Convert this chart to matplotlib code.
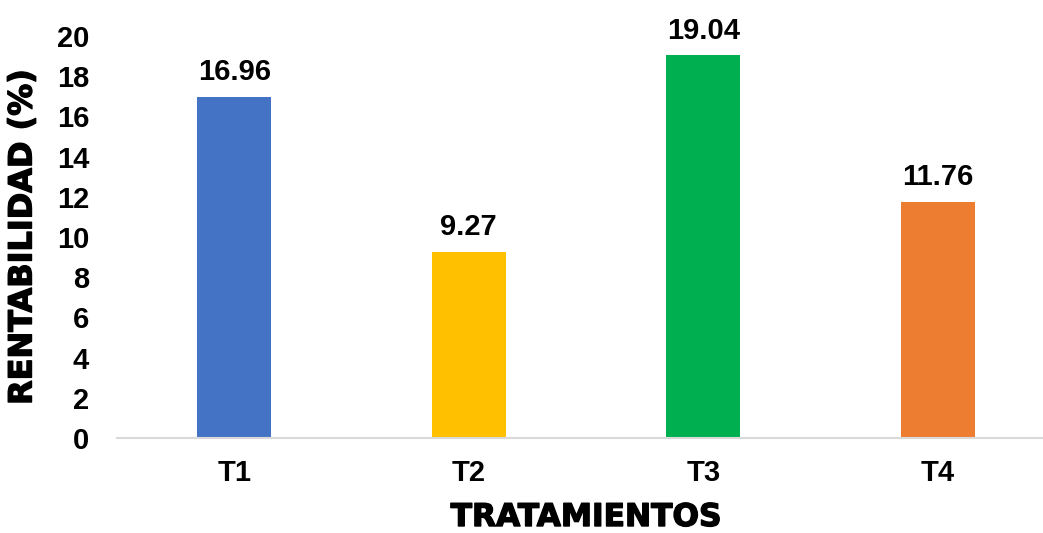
import matplotlib
matplotlib.use("Agg")
import matplotlib.pyplot as plt
import matplotlib.patheffects as pe

categories = ["T1", "T2", "T3", "T4"]
values = [16.96, 9.27, 19.04, 11.76]
colors = ["#4472C4", "#FFC000", "#00B050", "#ED7D31"]
y_ticks = [0, 2, 4, 6, 8, 10, 12, 14, 16, 18, 20]

W, H = 1043, 533
fig = plt.figure(figsize=(W / 100, H / 100), dpi=100)
ax = fig.add_axes([117 / W, 95 / H, (1055 - 117) / W, 402 / H])

x = range(len(categories))
bars = ax.bar(x, values, width=0.316, color=colors, zorder=2)

ax.set_xlim(-0.5, len(categories) - 0.5)
ax.set_ylim(0, 20)
ax.set_yticks(y_ticks)
ax.set_xticks(list(x))
ax.set_xticklabels(categories)

tick_font = dict(family="Liberation Sans", weight="bold", size=21)
for lbl in ax.get_yticklabels() + ax.get_xticklabels():
    lbl.set_fontfamily("Liberation Sans")
    lbl.set_fontweight("bold")
    lbl.set_fontsize(21)
ax.tick_params(axis="y", length=0, pad=20)
ax.tick_params(axis="x", length=0, pad=15)

for s in ["top", "right", "left"]:
    ax.spines[s].set_visible(False)
ax.spines["bottom"].set_color("#D9D9D9")
ax.spines["bottom"].set_linewidth(1.5)

for bar, v in zip(bars, values):
    ax.annotate(f"{v:.2f}", (bar.get_x() + bar.get_width() / 2, v),
                xytext=(0, 12), textcoords="offset points",
                ha="center", va="baseline", **tick_font)

heavy = [pe.withStroke(linewidth=1.0, foreground="black")]
fig.text(586 / W, 1 / H, "TRATAMIENTOS", ha="center", va="bottom",
         family="DejaVu Sans", weight="bold", size=22.5, path_effects=heavy)
fig.text(23 / W, (H - 237) / H, "RENTABILIDAD (%)", ha="center", va="center",
         rotation=90, family="DejaVu Sans", weight="bold", size=23,
         path_effects=heavy)

fig.savefig("out.png", dpi=100)
